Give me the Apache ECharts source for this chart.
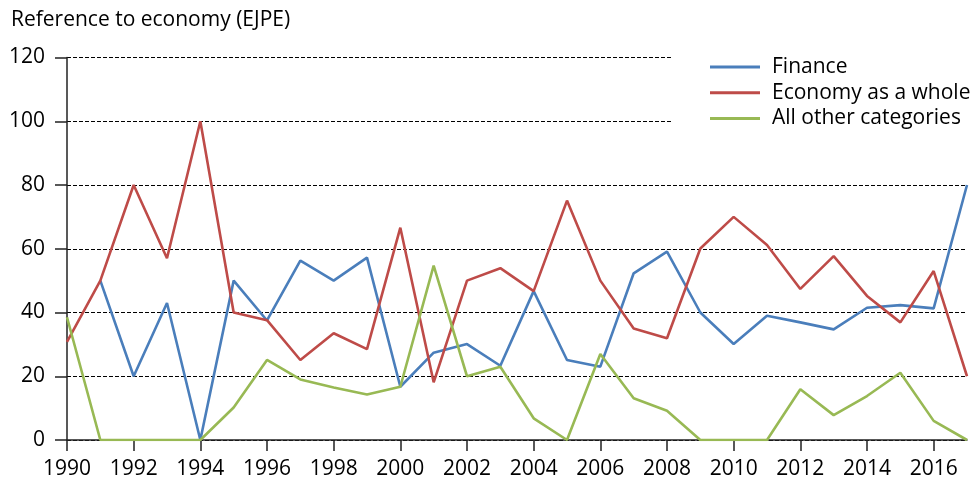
<!DOCTYPE html>
<html>
<head>
<meta charset="utf-8">
<script src="https://cdn.jsdelivr.net/npm/echarts@6/dist/echarts.min.js"></script>
<style>
  html, body { margin: 0; padding: 0; background: #fff; }
  #main { width: 975px; height: 483px; }
</style>
</head>
<body>
<div id="main"></div>
<script>
// years on x axis
var years = ['1990','1991','1992','1993','1994','1995','1996','1997','1998','1999',
             '2000','2001','2002','2003','2004','2005','2006','2007','2008','2009',
             '2010','2011','2012','2013','2014','2015','2016','2017'];

// reference shares per category
var finance = [null, 50, 20, 43, 0, 50, 37.5, 56.3, 50, 57.2,
               16.7, 27.4, 30.1, 23.3, 46.7, 25.1, 23, 52.3, 59.1, 40,
               30.1, 39, 36.9, 34.7, 41.5, 42.3, 41.3, 80];
var economy = [30.8, 50, 80, 57, 100, 40, 37.6, 25.1, 33.5, 28.5,
               66.6, 18.1, 50, 53.9, 46.7, 75.1, 50, 35, 31.9, 60.1,
               70, 61.2, 47.4, 57.7, 45.2, 36.9, 53, 20];
var others  = [38.5, 0, 0, 0, 0, 10.2, 25.1, 19, 16.5, 14.3,
               16.7, 54.7, 20, 23, 6.8, 0, 27, 13.1, 9.2, 0,
               0, 0, 15.9, 7.8, 13.8, 21.1, 6, 0];

var seriesNames = ['Finance', 'Economy as a whole', 'All other categories'];
var seriesColors = ['#4a7ebb', '#be4b48', '#98b954'];

var font = 'Open Sans';
var fs = 21;
var chart = echarts.init(document.getElementById('main'), null, {renderer: 'canvas'});

var mkLine = function(i, data){
    return {
        name: seriesNames[i],
        type: 'line',
        data: data,
        symbol: 'none',
        color: seriesColors[i],
        lineStyle: {width: 2.6, color: seriesColors[i]},
        animation: false
    };
};

chart.setOption({
    animation: false,
    title: {
        text: 'Reference to economy (EJPE)',
        left: 6,
        top: 5,
        textStyle: {fontFamily: font, fontSize: fs, fontWeight: 'normal', color: '#000'}
    },
    legend: {
        data: seriesNames,
        orient: 'vertical',
        icon: 'rect',
        left: 672,
        top: 50,
        padding: [6, 0, 6, 38],
        backgroundColor: '#fff',
        itemWidth: 50,
        itemHeight: 3,
        itemGap: 3.7,
        textStyle: {fontFamily: font, fontSize: fs, color: '#000', lineHeight: 22, padding: [0, 0, 0, 7]},
        z: 10
    },
    grid: {left: 67, right: 8, top: 57.5, bottom: 43, containLabel: false},
    xAxis: {
        type: 'category',
        data: years,
        boundaryGap: false,
        axisLine: {lineStyle: {color: '#222', width: 1.5}},
        axisTick: {show: true, interval: 1, length: 11, lineStyle: {color: '#222', width: 1.5}},
        axisLabel: {interval: 1, fontFamily: font, fontSize: fs, color: '#000', margin: 19},
        splitLine: {show: false}
    },
    yAxis: {
        type: 'value',
        min: 0,
        max: 120,
        interval: 20,
        axisLine: {show: true, lineStyle: {color: '#222', width: 1.5}},
        axisTick: {show: true, length: 12, lineStyle: {color: '#222', width: 1.5}},
        axisLabel: {fontFamily: font, fontSize: fs, color: '#000', margin: 22},
        splitLine: {show: true, lineStyle: {color: '#000', type: [4, 2], width: 1}}
    },
    series: [
        mkLine(0, finance),
        mkLine(1, economy),
        mkLine(2, others)
    ]
});
</script>
</body>
</html>
